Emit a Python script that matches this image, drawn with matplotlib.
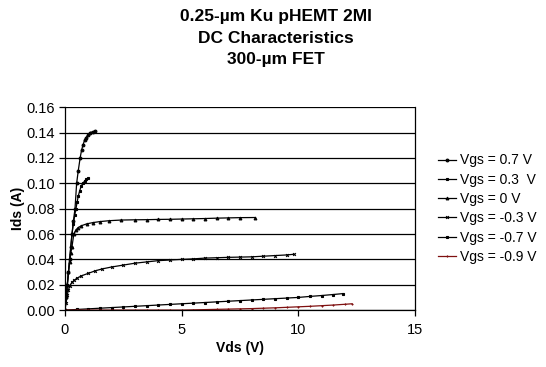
import matplotlib
matplotlib.use("Agg")
import matplotlib.pyplot as plt

plt.rcParams["font.family"] = ["Liberation Sans", "DejaVu Sans"]

# Vgs = 0.7 V
vds_07 = [0, 0.05, 0.1, 0.15, 0.2, 0.25, 0.3, 0.36, 0.43, 0.5, 0.57, 0.65, 0.71, 0.77, 0.84, 0.9, 0.98, 1.07, 1.18, 1.3]
ids_07 = [0, 0.01, 0.02, 0.03, 0.04, 0.05, 0.06, 0.07, 0.08, 0.10, 0.11, 0.12, 0.126, 0.13, 0.134, 0.136, 0.138, 0.14, 0.1405, 0.141]
# Vgs = 0.3 V
vds_03 = [0, 0.05, 0.1, 0.15, 0.2, 0.25, 0.3, 0.36, 0.42, 0.47, 0.52, 0.57, 0.63, 0.7, 0.77, 0.85, 0.92, 1.0]
ids_03 = [0, 0.01, 0.02, 0.03, 0.04, 0.05, 0.06, 0.068, 0.075, 0.08, 0.085, 0.09, 0.094, 0.098, 0.1, 0.102, 0.103, 0.104]
# Vgs = 0 V
vds_0 = [0, 0.05, 0.1, 0.15, 0.2, 0.25, 0.3, 0.38, 0.46, 0.56, 0.7, 0.93, 1.2, 1.5, 1.9, 2.4, 3.0, 3.5, 4.0, 4.5, 5.0, 5.5, 6.0, 6.5, 7.0, 7.5, 8.15]
ids_0 = [0, 0.01, 0.02, 0.03, 0.038, 0.045, 0.05, 0.06, 0.063, 0.065, 0.0665, 0.068, 0.069, 0.0698, 0.0705, 0.071, 0.0712, 0.0713, 0.0715, 0.0716, 0.0718, 0.072, 0.0722, 0.0725, 0.0727, 0.0729, 0.073]
# Vgs = -0.3 V
vds_m03 = [0, 0.05, 0.1, 0.15, 0.2, 0.3, 0.4, 0.5, 0.7, 1.0, 1.3, 1.6, 2.0, 2.5, 3.0, 3.5, 4.0, 4.5, 5.0, 5.5, 6.0, 6.5, 7.0, 7.5, 8.0, 8.5, 9.0, 9.5, 9.8]
ids_m03 = [0, 0.006, 0.012, 0.016, 0.019, 0.022, 0.0235, 0.025, 0.027, 0.029, 0.031, 0.0325, 0.034, 0.0355, 0.037, 0.038, 0.039, 0.0395, 0.040, 0.0404, 0.041, 0.0413, 0.0416, 0.0418, 0.042, 0.0425, 0.043, 0.0435, 0.044]
# Vgs = -0.7 V
vds_m07 = [0, 0.5, 1.0, 1.5, 2.0, 2.5, 3.0, 3.5, 4.0, 4.5, 5.0, 5.5, 6.0, 6.5, 7.0, 7.5, 8.0, 8.5, 9.0, 9.5, 10.0, 10.5, 11.0, 11.5, 11.9]
ids_m07 = [0, 0.0005, 0.001, 0.0015, 0.002, 0.0025, 0.003, 0.0035, 0.004, 0.0045, 0.005, 0.0055, 0.006, 0.0065, 0.007, 0.0075, 0.008, 0.0085, 0.009, 0.0095, 0.010, 0.0108, 0.0115, 0.0123, 0.013]
# Vgs = -0.9 V
vds_m09 = [0, 0.5, 1.0, 1.5, 2.0, 2.5, 3.0, 3.5, 4.0, 4.5, 5.0, 5.5, 6.0, 6.5, 7.0, 7.5, 8.0, 8.5, 9.0, 9.5, 10.0, 10.5, 11.0, 11.5, 12.0, 12.3]
ids_m09 = [0, 0, 0, 0, 0, 0, 0, 0, 0, 0, 0, 0.0002, 0.0004, 0.0006, 0.0008, 0.001, 0.0012, 0.0015, 0.0018, 0.0022, 0.0026, 0.003, 0.0035, 0.004, 0.0046, 0.005]

series = [
    ("Vgs = 0.7 V", vds_07, ids_07, "black", "o"),
    ("Vgs = 0.3  V", vds_03, ids_03, "black", "s"),
    ("Vgs = 0 V", vds_0, ids_0, "black", "^"),
    ("Vgs = -0.3 V", vds_m03, ids_m03, "black", "x"),
    ("Vgs = -0.7 V", vds_m07, ids_m07, "black", "s"),
    ("Vgs = -0.9 V", vds_m09, ids_m09, "#7f1010", "+"),
]

fig = plt.figure(figsize=(5.46, 3.67), dpi=100)
ax = fig.add_axes([0.119, 0.155, 0.641, 0.553])

for label, x, y, c, m in series:
    ax.plot(x, y, color=c, lw=0.9, marker=m, ms=2.0, mew=0.8, label=label)

ax.set_xlim(0, 15)
ax.set_ylim(0, 0.16)
ax.set_xticks([0, 5, 10, 15])
ax.set_yticks([0, 0.02, 0.04, 0.06, 0.08, 0.10, 0.12, 0.14, 0.16])
ax.set_yticklabels([f"{v:.2f}" for v in ax.get_yticks()])
ax.yaxis.grid(True, color="black", lw=0.9)
ax.set_axisbelow(True)
ax.tick_params(labelsize=10.5, length=4, width=0.9, color="black")
ax.tick_params(axis="x", pad=5)
ax.tick_params(axis="y", pad=3)
ax.spines["top"].set_visible(False)
for s in ["left", "bottom", "right"]:
    ax.spines[s].set_linewidth(0.9)
ax.set_xlabel("Vds (V)", fontsize=10, fontweight="bold", labelpad=3)
ax.set_ylabel("Ids (A)", fontsize=10, fontweight="bold", labelpad=1)

fig.text(0.505, 0.975, "0.25-µm Ku pHEMT 2MI\nDC Characteristics\n300-µm FET",
         ha="center", va="top", fontsize=12.5, fontweight="bold", linespacing=1.55)

ax.legend(loc="center left", bbox_to_anchor=(1.03, 0.5), frameon=False,
          fontsize=10, handlelength=1.3, handletextpad=0.3, labelspacing=0.38,
          markerscale=1.0)

fig.savefig("out.png", dpi=100)
